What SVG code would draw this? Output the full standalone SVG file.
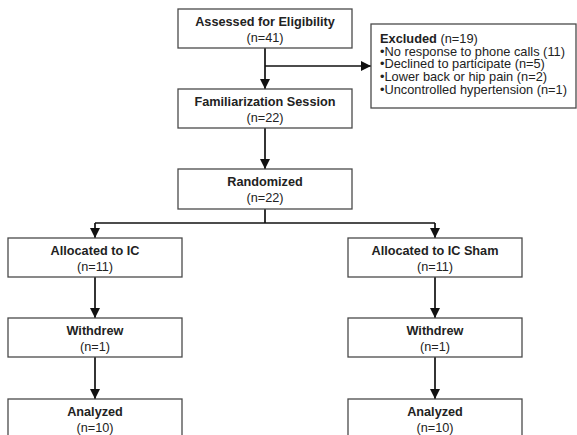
<svg xmlns="http://www.w3.org/2000/svg" width="577" height="435" viewBox="0 0 577 435">
<defs>
<style>
.box{fill:#fff;stroke:#4a4a4a;stroke-width:1.3}
.t{font-family:"Liberation Sans",Arial,sans-serif;font-size:12.7px;fill:#222;text-anchor:middle}
.b{font-weight:bold}
.x{font-family:"Liberation Sans",Arial,sans-serif;font-size:12.8px;fill:#222}
.c{fill:none;stroke:#111;stroke-width:1.7}
</style>
<marker id="ah" markerWidth="10" markerHeight="10" refX="10" refY="5" orient="auto" markerUnits="userSpaceOnUse" viewBox="0 0 10 10">
<path d="M0,0 L10,5 L0,10 Z" fill="#111"/>
</marker>
</defs>
<rect width="577" height="435" fill="#fff"/>
<g id="connectors">
<path class="c" d="M265,48 V89" marker-end="url(#ah)"/>
<path class="c" d="M265,66 H371" marker-end="url(#ah)"/>
<path class="c" d="M265,128 V169" marker-end="url(#ah)"/>
<path class="c" d="M265,209 V223"/>
<path class="c" d="M95,223 H435"/>
<path class="c" d="M95,223 V238" marker-end="url(#ah)"/>
<path class="c" d="M435,223 V238" marker-end="url(#ah)"/>
<path class="c" d="M95,277 V318" marker-end="url(#ah)"/>
<path class="c" d="M435,277 V318" marker-end="url(#ah)"/>
<path class="c" d="M95,357 V399" marker-end="url(#ah)"/>
<path class="c" d="M435,357 V399" marker-end="url(#ah)"/>
</g>
<g id="assessed">
<rect class="box" x="178" y="9" width="174" height="39"/>
<text class="t b" x="265" y="26">Assessed for Eligibility</text>
<text class="t" x="265" y="42">(n=41)</text>
</g>
<g id="excluded">
<rect class="box" x="371" y="24" width="205" height="84"/>
<text class="x" x="380" y="43"><tspan font-weight="bold">Excluded</tspan> (n=19)</text>
<text class="x" x="380" y="55.7">•No response to phone calls (11)</text>
<text class="x" x="380" y="68.4">•Declined to participate (n=5)</text>
<text class="x" x="380" y="81.1">•Lower back or hip pain (n=2)</text>
<text class="x" x="380" y="93.8">•Uncontrolled hypertension (n=1)</text>
</g>
<g id="familiarization">
<rect class="box" x="178" y="89" width="174" height="39"/>
<text class="t b" x="265" y="106">Familiarization Session</text>
<text class="t" x="265" y="122">(n=22)</text>
</g>
<g id="randomized">
<rect class="box" x="178" y="169" width="174" height="40"/>
<text class="t b" x="265" y="186">Randomized</text>
<text class="t" x="265" y="202">(n=22)</text>
</g>
<g id="alloc-ic">
<rect class="box" x="8" y="238" width="174" height="39"/>
<text class="t b" x="95" y="255">Allocated to IC</text>
<text class="t" x="95" y="271">(n=11)</text>
</g>
<g id="alloc-sham">
<rect class="box" x="348" y="238" width="174" height="39"/>
<text class="t b" x="435" y="255">Allocated to IC Sham</text>
<text class="t" x="435" y="271">(n=11)</text>
</g>
<g id="withdrew-ic">
<rect class="box" x="8" y="318" width="174" height="39"/>
<text class="t b" x="95" y="335">Withdrew</text>
<text class="t" x="95" y="351">(n=1)</text>
</g>
<g id="withdrew-sham">
<rect class="box" x="348" y="318" width="174" height="39"/>
<text class="t b" x="435" y="335">Withdrew</text>
<text class="t" x="435" y="351">(n=1)</text>
</g>
<g id="analyzed-ic">
<rect class="box" x="8" y="399" width="174" height="39"/>
<text class="t b" x="95" y="416">Analyzed</text>
<text class="t" x="95" y="432">(n=10)</text>
</g>
<g id="analyzed-sham">
<rect class="box" x="348" y="399" width="174" height="39"/>
<text class="t b" x="435" y="416">Analyzed</text>
<text class="t" x="435" y="432">(n=10)</text>
</g>
</svg>
